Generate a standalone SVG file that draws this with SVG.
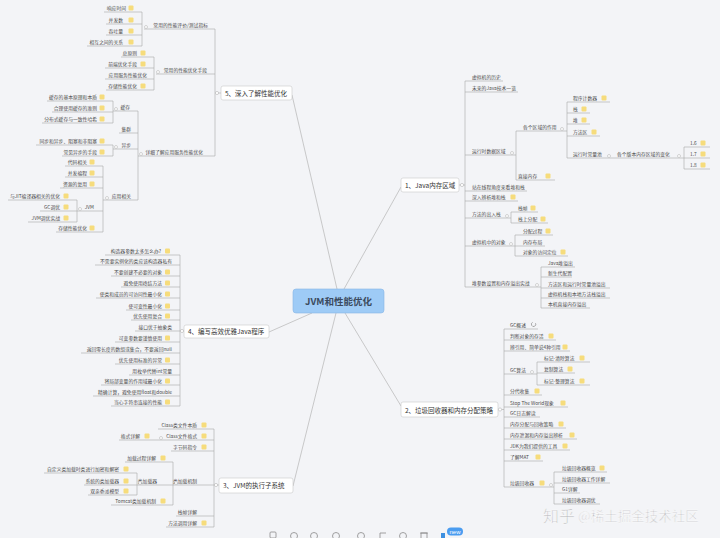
<svg xmlns="http://www.w3.org/2000/svg" width="720" height="538" viewBox="0 0 720 538">
<style>
.t{font-family:"Noto Sans CJK SC","Noto Sans",sans-serif;font-size:4.8px;fill:#4a4a4a}
.e{text-anchor:end}
.b{font-size:6.5px;fill:#333}
.u{stroke:#a9a9a9;stroke-width:.6;fill:none}
.k{stroke:#b5b5b5;stroke-width:.7;fill:none}
.ic{fill:#f6dc7c}
.c{fill:#fff;stroke:#aaa;stroke-width:.5}
.box{fill:#fff;stroke:#c9c9c9;stroke-width:.6}
.tb{fill:none;stroke:#8a8a8a;stroke-width:.8}
</style>
<rect width="720" height="538" fill="#f3f4f7"/>

<g id="connectors">
<path class="k" d="M337 289L292 95M344 289L401 187M312 313L269 332M345 313L401 406M336 313L293 486"/>
<path class="u" d="M215 29V156M215 93H221M142 12V46M154 57V90M138 111V200M113 101V123M113 145V156M103 166V232M77 200V222"/>
<path class="u" d="M180 255V406M180 331H184"/>
<path class="u" d="M214 429V527M214 485H219M173 462V505M137 473V495"/>
<path class="u" d="M465 81V287M459 185H465M516 131V180M567 102V158M684 147V169M511 212V223M515 235V256M541 267V308"/>
<path class="u" d="M504 329V487M498 409.5H504M537 362V385M554 472V504"/>
</g>

<g id="center"><rect x="293" y="289" width="91" height="24" rx="3" fill="#9ecbf6" stroke="#86b6e6" stroke-width=".6"/><text x="338.5" y="304.5" text-anchor="middle" style="font-family:'Noto Sans CJK SC','Noto Sans',sans-serif;font-size:9.5px;font-weight:bold;fill:#3b4a5e">JVM和性能优化</text></g>

<!-- Branch 5 -->
<g id="b5"><rect class="box" x="221" y="86" width="71" height="14" rx="2"/><text class="t b" x="225" y="95.5">5、深入了解性能优化</text><circle class="c" cx="217" cy="93" r="1.6"/></g>
<g id="b5a"><text class="t e" x="208" y="26.7">常用的性能评价/测试指标</text><path class="u" d="M144 29H215"/><circle class="c" cx="146" cy="27" r="1.5"/></g>
<g id="b5a1"><text class="t e" x="126" y="9.7">响应时间</text><path class="u" d="M104 12H142"/><rect class="ic" x="128.5" y="5.5" width="5" height="5" rx="1"/></g>
<g id="b5a2"><text class="t e" x="123" y="21.7">并发数</text><path class="u" d="M106 24H142"/><rect class="ic" x="128.5" y="17.5" width="5" height="5" rx="1"/></g>
<g id="b5a3"><text class="t e" x="123" y="32.7">吞吐量</text><path class="u" d="M106 35H142"/><rect class="ic" x="128.5" y="28.5" width="5" height="5" rx="1"/></g>
<g id="b5a4"><text class="t e" x="123" y="43.7">相互之间的关系</text><path class="u" d="M87 46H142"/><rect class="ic" x="128.5" y="39.5" width="5" height="5" rx="1"/></g>
<g id="b5b"><text class="t e" x="207" y="71.7">常用的性能优化手段</text><path class="u" d="M156 74H215"/><circle class="c" cx="158" cy="72" r="1.5"/></g>
<g id="b5b1"><text class="t e" x="137" y="54.7">总原则</text><path class="u" d="M121 57H154"/><rect class="ic" x="140.5" y="50.5" width="5" height="5" rx="1"/></g>
<g id="b5b2"><text class="t e" x="137" y="65.7">前端优化手段</text><path class="u" d="M105 68H154"/><rect class="ic" x="140.5" y="61.5" width="5" height="5" rx="1"/></g>
<g id="b5b3"><text class="t e" x="147" y="76.7">应用服务性能优化</text><path class="u" d="M105 79H154"/></g>
<g id="b5b4"><text class="t e" x="137" y="87.7">存储性能优化</text><path class="u" d="M106 90H154"/><rect class="ic" x="140.5" y="83.5" width="5" height="5" rx="1"/></g>
<g id="b5c"><text class="t e" x="203" y="153.7">详细了解应用服务性能优化</text><path class="u" d="M138 156H215"/><circle class="c" cx="141" cy="154" r="1.5"/></g>
<g id="b5c1"><text class="t e" x="130" y="108.7">缓存</text><path class="u" d="M113 111H138"/><circle class="c" cx="116" cy="109" r="1.5"/></g>
<g id="b5c11"><text class="t e" x="97" y="98.7">缓存的基本原理和本质</text><path class="u" d="M47 101H113"/><rect class="ic" x="99.5" y="94.5" width="5" height="5" rx="1"/></g>
<g id="b5c12"><text class="t e" x="97" y="109.7">合理使用缓存的准则</text><path class="u" d="M52 112H113"/><rect class="ic" x="99.5" y="105.5" width="5" height="5" rx="1"/></g>
<g id="b5c13"><text class="t e" x="97" y="120.7">分布式缓存与一致性哈希</text><path class="u" d="M42 123H113"/><rect class="ic" x="99.5" y="116.5" width="5" height="5" rx="1"/></g>
<g id="b5c2"><text class="t e" x="131" y="130.7">集群</text><path class="u" d="M119 133H138"/></g>
<g id="b5c3"><text class="t e" x="131" y="146.7">异步</text><path class="u" d="M113 149H138"/><circle class="c" cx="116" cy="147" r="1.5"/></g>
<g id="b5c31"><text class="t e" x="97" y="142.7">同步和异步、阻塞和非阻塞</text><path class="u" d="M36 145H113"/><rect class="ic" x="99.5" y="138.5" width="5" height="5" rx="1"/></g>
<g id="b5c32"><text class="t e" x="97" y="153.7">常见异步的手段</text><path class="u" d="M62 156H113"/><rect class="ic" x="99.5" y="149.5" width="5" height="5" rx="1"/></g>
<g id="b5c4"><text class="t e" x="131" y="197.7">应用相关</text><path class="u" d="M103 200H138"/><circle class="c" cx="107" cy="198" r="1.5"/></g>
<g id="b5c41"><text class="t e" x="87" y="163.7">代码相关</text><path class="u" d="M65 166H103"/><rect class="ic" x="89.5" y="159.5" width="5" height="5" rx="1"/></g>
<g id="b5c42"><text class="t e" x="87" y="174.7">并发编程</text><path class="u" d="M65 177H103"/><rect class="ic" x="89.5" y="170.5" width="5" height="5" rx="1"/></g>
<g id="b5c43"><text class="t e" x="87" y="185.7">资源的复用</text><path class="u" d="M60 188H103"/><rect class="ic" x="89.5" y="181.5" width="5" height="5" rx="1"/></g>
<g id="b5c44"><text class="t e" x="94" y="208.7">JVM</text><path class="u" d="M77 211H103"/><circle class="c" cx="80" cy="209" r="1.5"/></g>
<g id="b5c441"><text class="t e" x="60" y="197.7">与JIT编译器相关的优化</text><path class="u" d="M8 200H77"/><rect class="ic" x="63.5" y="193.5" width="5" height="5" rx="1"/></g>
<g id="b5c442"><text class="t e" x="60" y="208.7">GC调优</text><path class="u" d="M40 211H77"/><rect class="ic" x="63.5" y="204.5" width="5" height="5" rx="1"/></g>
<g id="b5c443"><text class="t e" x="60" y="219.7">JVM调优实战</text><path class="u" d="M28 222H77"/><rect class="ic" x="63.5" y="215.5" width="5" height="5" rx="1"/></g>
<g id="b5c45"><text class="t e" x="87" y="229.7">存储性能优化</text><path class="u" d="M56 232H103"/><rect class="ic" x="89.5" y="225.5" width="5" height="5" rx="1"/></g>

<!-- Branch 4 -->
<g id="b4"><rect class="box" x="184" y="325" width="85" height="13" rx="2"/><text class="t b" x="188" y="334">4、编写高效优雅Java程序</text><circle class="c" cx="182" cy="331" r="1.6"/></g>
<g id="b41"><text class="t e" x="161" y="252.7">构造器参数太多怎么办?</text><path class="u" d="M105 255H180"/><rect class="ic" x="165" y="248.5" width="5" height="5" rx="1"/></g>
<g id="b42"><text class="t e" x="172" y="262.7">不需要实例化的类应该构造器私有</text><path class="u" d="M95 265H180"/></g>
<g id="b43"><text class="t e" x="162" y="273.7">不要创建不必要的对象</text><path class="u" d="M111 276H180"/><rect class="ic" x="165" y="269.5" width="5" height="5" rx="1"/></g>
<g id="b44"><text class="t e" x="162" y="284.7">避免使用终结方法</text><path class="u" d="M121 287H180"/><rect class="ic" x="165" y="280.5" width="5" height="5" rx="1"/></g>
<g id="b45"><text class="t e" x="162" y="295.7">使类和成员的可访问性最小化</text><path class="u" d="M96 298H180"/><rect class="ic" x="165" y="291.5" width="5" height="5" rx="1"/></g>
<g id="b46"><text class="t e" x="162" y="307.7">使可变性最小化</text><path class="u" d="M126 310H180"/><rect class="ic" x="165" y="303.5" width="5" height="5" rx="1"/></g>
<g id="b47"><text class="t e" x="162" y="317.7">优先使用复合</text><path class="u" d="M131 320H180"/><rect class="ic" x="165" y="313.5" width="5" height="5" rx="1"/></g>
<g id="b48"><text class="t e" x="172" y="328.7">接口优于抽象类</text><path class="u" d="M135 331H180"/></g>
<g id="b49"><text class="t e" x="162" y="339.7">可变参数要谨慎使用</text><path class="u" d="M115 342H180"/><rect class="ic" x="165" y="335.5" width="5" height="5" rx="1"/></g>
<g id="b410"><text class="t e" x="172" y="350.7">返回零长度的数组或集合，不要返回null</text><path class="u" d="M81 353H180"/></g>
<g id="b411"><text class="t e" x="162" y="361.7">优先使用标准的异常</text><path class="u" d="M115 364H180"/><rect class="ic" x="165" y="357.5" width="5" height="5" rx="1"/></g>
<g id="b412"><text class="t e" x="172" y="372.7">用枚举代替int常量</text><path class="u" d="M129 375H180"/></g>
<g id="b413"><text class="t e" x="162" y="382.7">将局部变量的作用域最小化</text><path class="u" d="M101 385H180"/><rect class="ic" x="165" y="378.5" width="5" height="5" rx="1"/></g>
<g id="b414"><text class="t e" x="172" y="393.7">精确计算，避免使用float和double</text><path class="u" d="M93 396H180"/></g>
<g id="b415"><text class="t e" x="162" y="403.7">当心字符串连接的性能</text><path class="u" d="M111 406H180"/><rect class="ic" x="165" y="399.5" width="5" height="5" rx="1"/></g>

<!-- Branch 3 -->
<g id="b3"><rect class="box" x="219" y="478" width="74" height="15" rx="2"/><text class="t b" x="223" y="488">3、JVM的执行子系统</text><circle class="c" cx="216" cy="485" r="1.6"/></g>
<g id="b31"><text class="t e" x="197" y="426.7">Class类文件本质</text><path class="u" d="M158 429H214"/><rect class="ic" x="201.5" y="422.5" width="5" height="5" rx="1"/></g>
<g id="b32"><text class="t e" x="197" y="437.7">Class文件格式</text><path class="u" d="M158 440H214"/><rect class="ic" x="201.5" y="433.5" width="5" height="5" rx="1"/><circle class="c" cx="161" cy="438" r="1.5"/></g>
<g id="b321"><text class="t e" x="140" y="437.7">格式详解</text><path class="u" d="M119 440H158"/><rect class="ic" x="144.5" y="433.5" width="5" height="5" rx="1"/></g>
<g id="b33"><text class="t e" x="197" y="448.7">字节码指令</text><path class="u" d="M171 451H214"/><rect class="ic" x="201.5" y="444.5" width="5" height="5" rx="1"/></g>
<g id="b34"><text class="t e" x="197" y="482.7">类加载机制</text><path class="u" d="M173 485H214"/><circle class="c" cx="176" cy="483" r="1.5"/></g>
<g id="b341"><text class="t e" x="156" y="459.7">加载过程详解</text><path class="u" d="M125 462H173"/><rect class="ic" x="160.5" y="455.5" width="5" height="5" rx="1"/></g>
<g id="b342"><text class="t e" x="157" y="482.7">类加载器</text><path class="u" d="M137 485H173"/><circle class="c" cx="140" cy="483" r="1.5"/></g>
<g id="b3421"><text class="t e" x="119" y="470.7">自定义类加载时类进行加密和解密</text><path class="u" d="M44 473H137"/><rect class="ic" x="123.5" y="466.5" width="5" height="5" rx="1"/></g>
<g id="b3422"><text class="t e" x="119" y="482.7">系统的类加载器</text><path class="u" d="M84 485H137"/><rect class="ic" x="123.5" y="478.5" width="5" height="5" rx="1"/></g>
<g id="b3423"><text class="t e" x="119" y="492.7">双亲委派模型</text><path class="u" d="M88 495H137"/><rect class="ic" x="123.5" y="488.5" width="5" height="5" rx="1"/></g>
<g id="b343"><text class="t e" x="156" y="502.7">Tomcat类加载机制</text><path class="u" d="M111 505H173"/><rect class="ic" x="160.5" y="498.5" width="5" height="5" rx="1"/></g>
<g id="b35"><text class="t e" x="197" y="513.7">栈帧详解</text><path class="u" d="M176 516H214"/></g>
<g id="b36"><text class="t e" x="197" y="524.7">方法调用详解</text><path class="u" d="M166 527H214"/><rect class="ic" x="201.5" y="520.5" width="5" height="5" rx="1"/></g>

<!-- Branch 1 -->
<g id="b1"><rect class="box" x="401" y="178" width="58" height="14" rx="2"/><text class="t b" x="405" y="187.5">1、Java内存区域</text><circle class="c" cx="462" cy="185" r="1.6"/></g>
<g id="b11"><text class="t" x="472" y="78.7">虚拟机的历史</text><path class="u" d="M465 81H503"/></g>
<g id="b12"><text class="t" x="472" y="89.7">未来的Java技术一览</text><path class="u" d="M465 92H518"/></g>
<g id="b13"><text class="t" x="472" y="152.7">运行时数据区域</text><path class="u" d="M465 155H516"/><circle class="c" cx="512" cy="153" r="1.5"/></g>
<g id="b131"><text class="t" x="523" y="128.7">各个区域的作用</text><path class="u" d="M516 131H567"/><circle class="c" cx="562" cy="129" r="1.5"/></g>
<g id="b1311"><text class="t" x="573" y="99.7">程序计数器</text><path class="u" d="M567 102H610"/><rect class="ic" x="601.5" y="95.5" width="5" height="5" rx="1"/></g>
<g id="b1312"><text class="t" x="573" y="110.7">栈</text><path class="u" d="M567 113H590"/><rect class="ic" x="581.5" y="106.5" width="5" height="5" rx="1"/></g>
<g id="b1313"><text class="t" x="573" y="121.7">堆</text><path class="u" d="M567 124H590"/><rect class="ic" x="581.5" y="117.5" width="5" height="5" rx="1"/></g>
<g id="b1314"><text class="t" x="573" y="133.7">方法区</text><path class="u" d="M567 136H600"/><rect class="ic" x="591.5" y="129.5" width="5" height="5" rx="1"/></g>
<g id="b1315"><text class="t" x="573" y="155.7">运行时常量池</text><path class="u" d="M567 158H612"/><circle class="c" cx="609" cy="156" r="1.5"/></g>
<g id="b13151"><text class="t" x="617" y="155.7">各个版本内存区域的变化</text><path class="u" d="M612 158H684"/><circle class="c" cx="679" cy="156" r="1.5"/></g>
<g id="b131511"><text class="t" x="690" y="144.7">1.6</text><path class="u" d="M684 147H710"/><rect class="ic" x="700.5" y="140.5" width="5" height="5" rx="1"/></g>
<g id="b131512"><text class="t" x="690" y="155.7">1.7</text><path class="u" d="M684 158H710"/><rect class="ic" x="700.5" y="151.5" width="5" height="5" rx="1"/></g>
<g id="b131513"><text class="t" x="690" y="166.7">1.8</text><path class="u" d="M684 169H710"/><rect class="ic" x="700.5" y="162.5" width="5" height="5" rx="1"/></g>
<g id="b132"><text class="t" x="518" y="177.7">直接内存</text><path class="u" d="M516 180H555"/><rect class="ic" x="545.5" y="173.5" width="5" height="5" rx="1"/></g>
<g id="b14"><text class="t" x="472" y="188.7">站在线程角度来看堆和栈</text><path class="u" d="M465 191H527"/></g>
<g id="b15"><text class="t" x="472" y="198.7">深入辨析堆和栈</text><path class="u" d="M465 201H518"/><rect class="ic" x="510.5" y="194.5" width="5" height="5" rx="1"/></g>
<g id="b16"><text class="t" x="472" y="215.7">方法的出入栈</text><path class="u" d="M465 218H511"/><circle class="c" cx="507" cy="216" r="1.5"/></g>
<g id="b161"><text class="t" x="518" y="209.7">栈帧</text><path class="u" d="M511 212H538"/><rect class="ic" x="530.5" y="205.5" width="5" height="5" rx="1"/></g>
<g id="b162"><text class="t" x="518" y="220.7">栈上分配</text><path class="u" d="M511 223H548"/><rect class="ic" x="540.5" y="216.5" width="5" height="5" rx="1"/></g>
<g id="b17"><text class="t" x="472" y="243.7">虚拟机中的对象</text><path class="u" d="M465 246H515"/><circle class="c" cx="511" cy="244" r="1.5"/></g>
<g id="b171"><text class="t" x="523" y="232.7">分配过程</text><path class="u" d="M515 235H553"/><rect class="ic" x="545.5" y="228.5" width="5" height="5" rx="1"/></g>
<g id="b172"><text class="t" x="523" y="243.7">内存布局</text><path class="u" d="M515 246H545"/></g>
<g id="b173"><text class="t" x="523" y="253.7">对象的访问定位</text><path class="u" d="M515 256H568"/><rect class="ic" x="560.5" y="249.5" width="5" height="5" rx="1"/></g>
<g id="b18"><text class="t" x="472" y="284.7">堆参数设置和内存溢出实战</text><path class="u" d="M465 287H541"/><circle class="c" cx="537" cy="285" r="1.5"/></g>
<g id="b181"><text class="t" x="548" y="264.7">Java堆溢出</text><path class="u" d="M541 267H575"/></g>
<g id="b182"><text class="t" x="548" y="274.7">新生代配置</text><path class="u" d="M541 277H572"/></g>
<g id="b183"><text class="t" x="548" y="285.7">方法区和运行时常量池溢出</text><path class="u" d="M541 288H610"/></g>
<g id="b184"><text class="t" x="548" y="295.7">虚拟机栈和本地方法栈溢出</text><path class="u" d="M541 298H610"/></g>
<g id="b185"><text class="t" x="548" y="305.7">本机直接内存溢出</text><path class="u" d="M541 308H590"/></g>

<!-- Branch 2 -->
<g id="b2"><rect class="box" x="401" y="402" width="97" height="15" rx="2"/><text class="t b" x="405" y="412.5">2、垃圾回收器和内存分配策略</text><circle class="c" cx="500" cy="409.5" r="1.6"/></g>
<g id="b21"><text class="t" x="510" y="326.7">GC概述</text><path class="u" d="M504 329H538"/><path d="M535.5 323.2a2.2 2.2 0 1 1 -2.8 -.9" fill="none" stroke="#777" stroke-width=".6"/></g>
<g id="b22"><text class="t" x="510" y="337.7">判断对象的存活</text><path class="u" d="M504 340H556"/><rect class="ic" x="548.5" y="333.5" width="5" height="5" rx="1"/></g>
<g id="b23"><text class="t" x="510" y="348.7">辨引用、简单说4种引用</text><path class="u" d="M504 351H570"/><rect class="ic" x="562.5" y="344.5" width="5" height="5" rx="1"/></g>
<g id="b24"><text class="t" x="510" y="371.7">GC算法</text><path class="u" d="M504 374H537"/><circle class="c" cx="532" cy="372" r="1.5"/></g>
<g id="b241"><text class="t" x="544" y="359.7">标记-清除算法</text><path class="u" d="M537 362H590"/><rect class="ic" x="579.5" y="355.5" width="5" height="5" rx="1"/></g>
<g id="b242"><text class="t" x="544" y="370.7">复制算法</text><path class="u" d="M537 373H575"/><rect class="ic" x="567.5" y="366.5" width="5" height="5" rx="1"/></g>
<g id="b243"><text class="t" x="544" y="382.7">标记-整理算法</text><path class="u" d="M537 385H590"/><rect class="ic" x="579.5" y="378.5" width="5" height="5" rx="1"/></g>
<g id="b25"><text class="t" x="510" y="392.7">分代收集</text><path class="u" d="M504 395H542"/><rect class="ic" x="534.5" y="388.5" width="5" height="5" rx="1"/></g>
<g id="b26"><text class="t" x="510" y="404.7">Stop The World现象</text><path class="u" d="M504 407H568"/><rect class="ic" x="560.5" y="400.5" width="5" height="5" rx="1"/></g>
<g id="b27"><text class="t" x="510" y="414.7">GC日志解读</text><path class="u" d="M504 417H540"/></g>
<g id="b28"><text class="t" x="510" y="425.7">内存分配与回收策略</text><path class="u" d="M504 428H566"/><rect class="ic" x="558.5" y="421.5" width="5" height="5" rx="1"/></g>
<g id="b29"><text class="t" x="510" y="436.7">内存泄漏和内存溢出辨析</text><path class="u" d="M504 439H577"/><rect class="ic" x="569.5" y="432.5" width="5" height="5" rx="1"/></g>
<g id="b210"><text class="t" x="510" y="447.7">JDK为我们提供的工具</text><path class="u" d="M504 450H570"/><rect class="ic" x="562.5" y="443.5" width="5" height="5" rx="1"/></g>
<g id="b211"><text class="t" x="510" y="458.7">了解MAT</text><path class="u" d="M504 461H543"/><rect class="ic" x="535.5" y="454.5" width="5" height="5" rx="1"/></g>
<g id="b212"><text class="t" x="510" y="484.7">垃圾回收器</text><path class="u" d="M504 487H554"/><rect class="ic" x="539.5" y="480.5" width="5" height="5" rx="1"/><circle class="c" cx="551" cy="485" r="1.5"/></g>
<g id="b2121"><text class="t" x="562" y="469.7">垃圾回收器概览</text><path class="u" d="M554 472H607"/><rect class="ic" x="599.5" y="465.5" width="5" height="5" rx="1"/></g>
<g id="b2122"><text class="t" x="562" y="480.7">垃圾回收器工作详解</text><path class="u" d="M554 483H610"/></g>
<g id="b2123"><text class="t" x="562" y="490.7">G1详解</text><path class="u" d="M554 493H580"/></g>
<g id="b2124"><text class="t" x="562" y="501.7">垃圾回收器调优</text><path class="u" d="M554 504H600"/></g>

<!-- watermark -->
<g id="watermark" style="font-family:'Noto Sans CJK SC',sans-serif;fill:#b4b4b8;stroke:#fff;stroke-width:.5;opacity:.85">
<text x="543" y="522" style="font-size:16px">知乎</text>
<text x="578" y="521" style="font-size:13.5px">@稀土掘金技术社区</text>
</g>

<!-- toolbar -->
<g id="toolbar">
<rect class="tb" x="270" y="532" width="6" height="6" rx="1"/>
<circle class="tb" cx="294" cy="536" r="3.5"/>
<circle class="tb" cx="314" cy="536" r="3.5"/>
<circle class="tb" cx="336" cy="536" r="3.5"/>
<circle class="tb" cx="361" cy="536" r="3.5"/>
<path class="tb" d="M380 538V533H386"/>
<circle class="tb" cx="403" cy="536" r="3.5"/>
<path class="tb" d="M421 538V533H427V538M420 533H428"/>
<rect x="441" y="533" width="4" height="5" fill="#3d8fe0"/>
<rect x="447" y="527.5" width="16" height="8" rx="4" fill="#4a9cf0"/>
<text x="455" y="533.5" text-anchor="middle" style="font-family:'Liberation Sans',sans-serif;font-size:6px;fill:#fff">new</text>
</g>
</svg>
